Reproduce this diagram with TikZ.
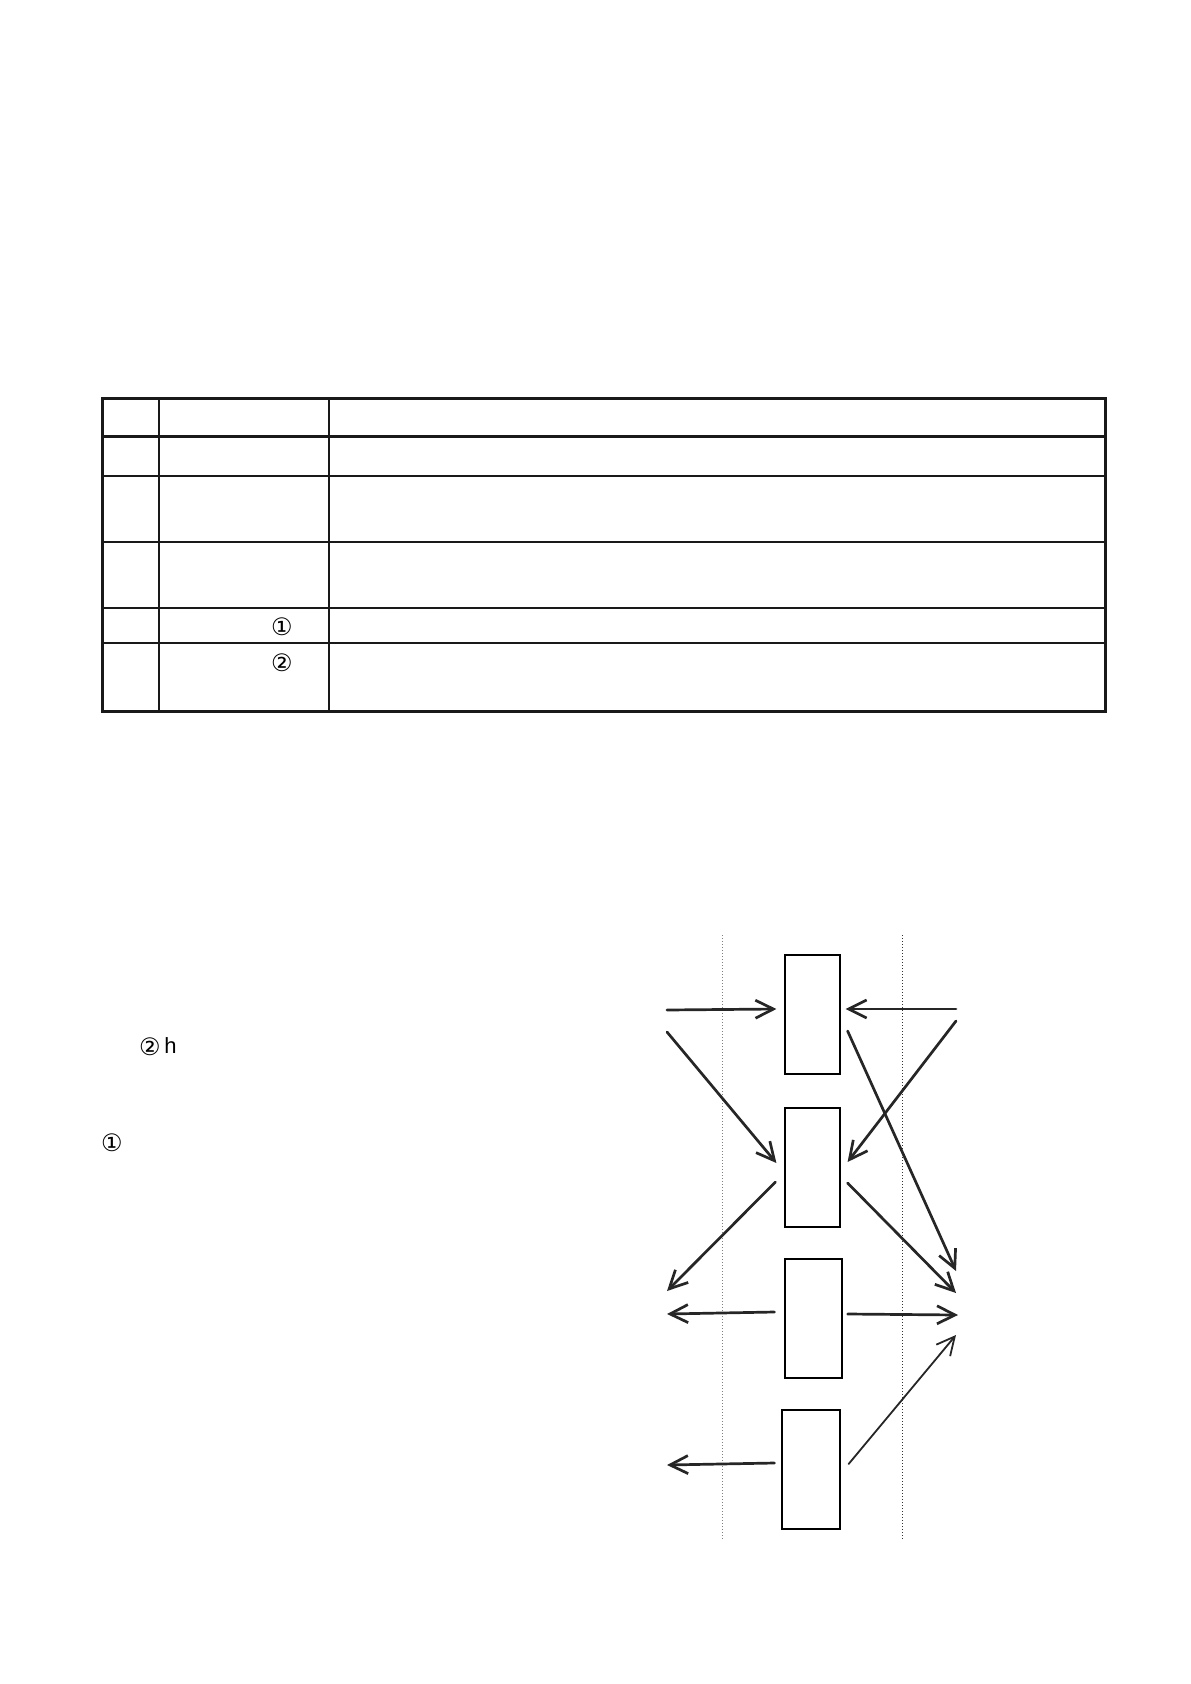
\documentclass[tikz,border=0pt]{standalone}
\usepackage{fontspec}
\setmainfont{Liberation Sans}
\newfontfamily\circfont{DejaVu Sans}
\usetikzlibrary{arrows.meta}
\tikzset{
  flow/.style={draw=black!85, line width=1.35pt, -{Straight Barb[length=9pt,width=9pt]}, line cap=round},
  part/.style={draw, line width=0.6pt, inner sep=0pt, minimum width=27.5pt, minimum height=59.5pt},
  mark circ/.style={inner sep=0pt, font=\circfont\fontsize{12}{14}\selectfont},
}
\begin{document}
\begin{tikzpicture}[x=0.5pt,y=-0.5pt]
\useasboundingbox (0,0) rectangle (1190,1684);
% table
\draw[line width=1.5pt,black!90] (102,399) rectangle (1105,711);
\draw[line width=1.5pt,black!90] (102,437) -- (1105,437);
\foreach\y in {476,542,608,643}
{
\draw[line width=0.9pt,black!90] (102,\y) -- (1105,\y);
}
\foreach\x in {159,329}
{
\draw[line width=0.7pt,black!90] (\x,399) -- (\x,711);
}
\node[mark circ] (t1) at (282,627) {①};
\node[mark circ] (t2) at (282,663) {②};
% text
\node[mark circ] (s2) at (150,1047) {②};
\node[inner sep=0pt,anchor=west,font=\fontsize{11}{13}\selectfont] (h) at (164,1046) {h};
\node[mark circ] (s1) at (112,1143) {①};
% guide lines
\draw[gray,densely dotted,line width=0.5pt] (722,935) -- (722,1540);
\draw[black!80,densely dotted,line width=0.5pt] (902,935) -- (902,1540);
% parts
\node[part] (b1) at (812.5,1014.5) {};
\node[part] (b2) at (812.5,1167.5) {};
\node[part,minimum width=28.5pt] (b3) at (813.5,1318.5) {};
\node[part,minimum width=29pt] (b4) at (811,1469.5) {};
\coordinate (la) at (667,1010);
\coordinate (lb) at (667,1032);
\coordinate (lc) at (667,1291);
\coordinate (ld) at (667,1314);
\coordinate (le) at (667,1465);
\coordinate (ra) at (956,1009);
\coordinate (rb) at (956,1021);
\coordinate (rc) at (956,1271);
\coordinate (rd) at (956,1293);
\coordinate (re) at (958,1315);
\coordinate (rf) at (956,1335);
% flows
\draw[flow] (la) -- ([xshift=-4pt,yshift=2.75pt]b1.west);
\draw[flow] (ra) -- ([xshift=2.5pt,yshift=2.75pt]b1.east);
\draw[flow] (lb) -- ([xshift=-4pt,yshift=2.25pt]b2.west);
\draw[flow] (rb) -- ([xshift=3.5pt,yshift=2.75pt]b2.east);
\draw[flow] ([xshift=3.5pt,yshift=-8.25pt]b1.east) -- (rc);
\draw[flow] ([xshift=-4.5pt,yshift=-7.25pt]b2.west) -- (lc);
\draw[flow] ([xshift=3.5pt,yshift=-7.75pt]b2.east) -- (rd);
\draw[flow] ([xshift=-5pt,yshift=3.25pt]b3.west) -- (ld);
\draw[flow] ([xshift=2.5pt,yshift=2.25pt]b3.east) -- (re);
\draw[flow,line width=0.9pt] ([xshift=4pt,yshift=2.75pt]b4.east) -- (rf);
\draw[flow] ([xshift=-3.5pt,yshift=3.25pt]b4.west) -- (le);
\end{tikzpicture}
\end{document}
